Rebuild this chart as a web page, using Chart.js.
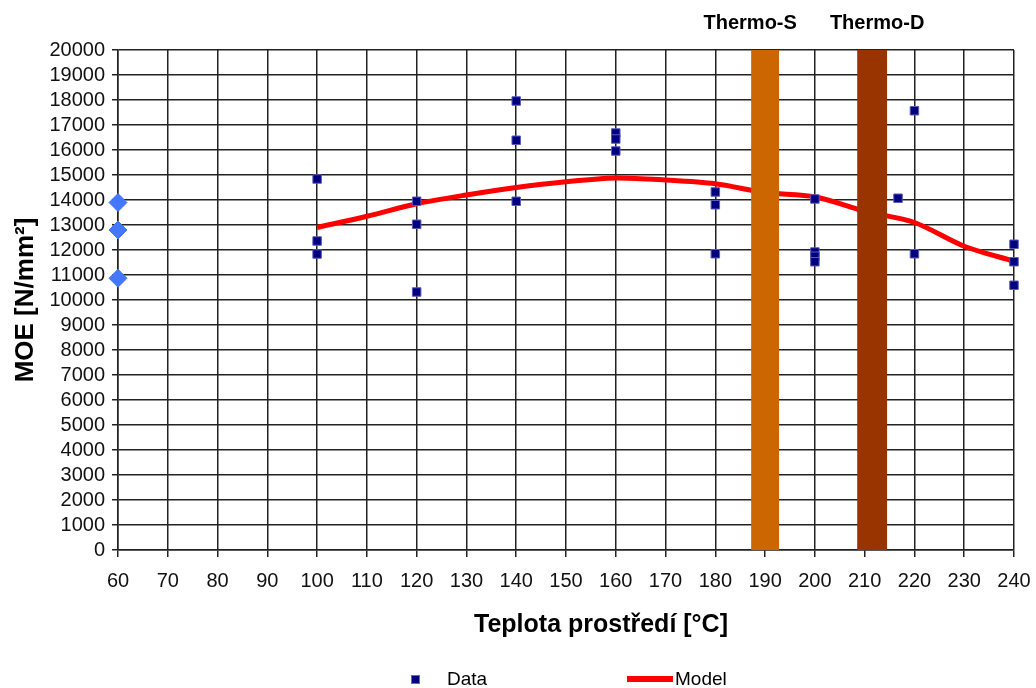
<!DOCTYPE html>
<html><head><meta charset="utf-8">
<script src="https://cdn.jsdelivr.net/npm/chart.js@4"></script>
<style>
html,body{margin:0;padding:0;background:#fff;}
#wrap{position:relative;width:1036px;height:688px;}
.lg{position:absolute;font-family:"Liberation Sans",Arial,sans-serif;font-size:19px;color:#000;line-height:22px;}
#xt{position:absolute;left:401px;width:400px;top:608px;text-align:center;font-family:"Liberation Sans",Arial,sans-serif;font-size:25px;font-weight:bold;line-height:30px;color:#000;}
</style></head><body>
<div id="wrap"><canvas id="c" width="1036" height="688"></canvas>
<div id="xt">Teplota prostředí [°C]</div>
<div class="lg" style="left:411px;top:675px;width:9px;height:9px;background:#000080;border:1px solid #6a6ac0;box-sizing:border-box;"></div>
<div class="lg" style="left:447px;top:668px;">Data</div>
<div class="lg" style="left:627px;top:676px;width:46px;height:6px;background:#ff0000;"></div>
<div class="lg" style="left:675px;top:668px;">Model</div>
</div>
<script>
const dataX = [100,100,100,120,120,120,140,140,140,160,160,160,180,180,180,200,200,200,200,216.7,220,220,240,240,240];
const dataY = [14840,12360,11840,13950,13030,10320,17960,16390,13950,16680,16440,15960,14320,13810,11850,14040,11920,11750,11530,14070,17570,11850,12230,11530,10590];
const modelX = [100,110,120,130,140,150,160,170,180,190,200,210,220,230,240];
const modelY = [12900,13350,13850,14200,14500,14730,14880,14800,14650,14300,14130,13550,13100,12150,11550];
const refX = [60,60,60];
const refY = [13900,12800,10870];
const bandNames = ['Thermo-S','Thermo-D'];
const bandFrom = [187.2,208.5];
const bandTo = [192.8,214.5];
const bandColors = ['#CC6600','#993300'];
const bandLabelAt = [187,212.5];

const F = '"Liberation Sans", Arial, sans-serif';
const bandPlugin = {
  id:'bands',
  afterDatasetsDraw(chart){
    const {ctx, scales:{x,y}} = chart;
    ctx.save();
    for(let i=0;i<bandNames.length;i++){
      const x0 = x.getPixelForValue(bandFrom[i]), x1 = x.getPixelForValue(bandTo[i]);
      const yt = y.getPixelForValue(20000), yb = y.getPixelForValue(0);
      ctx.fillStyle = bandColors[i];
      ctx.fillRect(x0, yt, x1-x0, yb-yt);
      ctx.fillStyle = '#000';
      ctx.font = 'bold 20px '+F;
      ctx.textAlign='center'; ctx.textBaseline='middle';
      ctx.fillText(bandNames[i], x.getPixelForValue(bandLabelAt[i]), 23);
    }
    ctx.restore();
  }
};

new Chart(document.getElementById('c'), {
  type:'scatter',
  data:{datasets:[
    {label:'Model', type:'line', data:modelX.map((v,i)=>({x:v,y:modelY[i]})), borderColor:'#ff0000', borderWidth:5, pointRadius:0, tension:0.3, fill:false, order:3},
    {label:'Data', data:dataX.map((v,i)=>({x:v,y:dataY[i]})), pointStyle:'rect', pointRadius:6, backgroundColor:'#000080', borderColor:'#5a5ab8', borderWidth:1, order:1, clip:false},
    {label:'Ref', data:refX.map((v,i)=>({x:v,y:refY[i]})), pointStyle:'rectRot', pointRadius:9, backgroundColor:'#4477ff', borderColor:'#4477ff', borderWidth:1, order:2, clip:false}
  ]},
  options:{
    responsive:false, animation:false,
    layout:{padding:{top:50,right:22,left:0,bottom:48}},
    plugins:{legend:{display:false}, tooltip:{enabled:false}},
    scales:{
      x:{type:'linear', min:60, max:240,
        ticks:{stepSize:10, color:'#111', font:{family:F,size:20}, padding:12, maxRotation:0, autoSkip:false},
        grid:{color:'#222', lineWidth:1.5, tickLength:7},
        border:{color:'#222', width:1.5},
        title:{display:false},
        afterFit(s){ s.height = 90; s.paddingRight = 0; s.paddingLeft = 0; }
      },
      y:{min:0, max:20000,
        ticks:{stepSize:1000, color:'#111', font:{family:F,size:20}, padding:7, autoSkip:false, callback:v=>String(v)},
        grid:{color:'#222', lineWidth:1.5, tickLength:6},
        border:{color:'#222', width:1.5},
        title:{display:true, text:'MOE [N/mm²]', color:'#000', font:{family:F,size:26,weight:'bold'}, padding:{top:10,bottom:0}},
        afterFit(s){ s.width = 118; s.paddingTop = 0; s.paddingBottom = 0; }
      }
    }
  },
  plugins:[bandPlugin]
});
</script>
</body></html>
